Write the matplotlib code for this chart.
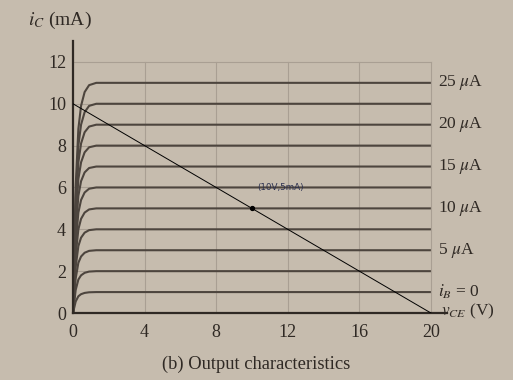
import numpy as np
import matplotlib.pyplot as plt

plt.rcParams['font.family'] = ['Liberation Serif', 'DejaVu Serif']
plt.rcParams['mathtext.fontset'] = 'stix'

# collector current levels of the output curves (mA)
ic_levels = [1, 2, 3, 4, 5, 6, 7, 8, 9, 10, 11]
# knee shape of each curve (fraction of final level)
knee_v = [0, 0.15, 0.3, 0.45, 0.65, 0.9, 1.3, 20]
knee_frac = [0, 0.55, 0.8, 0.9, 0.96, 0.99, 1.0, 1.0]

# base current labels and the curve each one sits on
ib_labels = ['$i_B$ = 0', r'5 $\mu$A', r'10 $\mu$A', r'15 $\mu$A', r'20 $\mu$A', r'25 $\mu$A']
ib_label_ic = [1, 3, 5, 7, 9, 11]

# load line and operating point
load_v = [0, 20]
load_i = [10, 0]
q_point = (10, 5)

x_ticks = [0, 4, 8, 12, 16, 20]
y_ticks = [0, 2, 4, 6, 8, 10, 12]

bg = '#c6bcae'
ink = '#2f2924'
curve_col = '#4d453e'
grid_col = '#a99f93'

fig = plt.figure(figsize=(5.13, 3.80), dpi=100, facecolor=bg)
ax = fig.add_axes([73 / 513, 67 / 380, 374 / 513, 272 / 380])
ax.set_facecolor(bg)
ax.set_xlim(0, 20.9)
ax.set_ylim(0, 13)

for x in x_ticks[1:]:
    ax.plot([x, x], [0, 12], color=grid_col, lw=0.8, zorder=1)
for y in y_ticks[1:]:
    ax.plot([0, 20], [y, y], color=grid_col, lw=0.8, zorder=1)

for lvl in ic_levels:
    ax.plot(knee_v, np.array(knee_frac) * lvl, color=curve_col, lw=1.5,
            solid_capstyle='butt', zorder=2)

ax.plot(load_v, load_i, color='black', lw=0.7, zorder=3)
ax.plot(*q_point, 'o', color='black', ms=2.8, zorder=4)
ax.text(q_point[0] + 0.3, q_point[1] + 1.0, '(10V,5mA)', fontsize=6.3,
        family='DejaVu Sans', color='#2c3150', va='center')

for lab, y in zip(ib_labels, ib_label_ic):
    ax.text(20.4, y, lab, fontsize=12.5, color=ink, va='center', ha='left')
ax.text(20.55, 0.1, '$v_{CE}$ (V)', fontsize=12.5, color=ink, va='center', ha='left')

for s in ['top', 'right']:
    ax.spines[s].set_visible(False)
for s in ['left', 'bottom']:
    ax.spines[s].set_color(ink)
    ax.spines[s].set_linewidth(1.6)

ax.set_xticks(x_ticks)
ax.set_yticks(y_ticks)
ax.tick_params(length=0, labelsize=13, colors=ink)
ax.tick_params(axis='y', pad=5)
ax.tick_params(axis='x', pad=8)

fig.text(60 / 513, 1 - 20 / 380, '$i_C$ (mA)', fontsize=14, color=ink,
         ha='center', va='center')
fig.text(256 / 513, 1 - 364 / 380, '(b) Output characteristics', fontsize=13.3,
         color=ink, ha='center', va='center')

fig.savefig('out.png', dpi=100, facecolor=bg)
